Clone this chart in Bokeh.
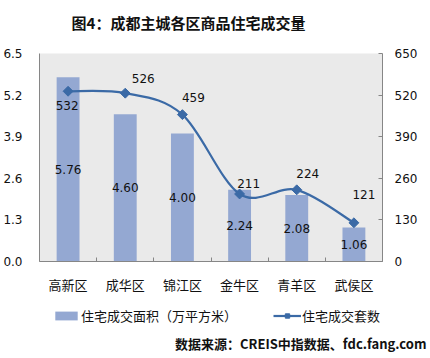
import numpy as np
from bokeh.plotting import figure
from bokeh.layouts import column, row
from bokeh.models import (ColumnDataSource, Range1d, LinearAxis, FixedTicker,
                          PrintfTickFormatter, Legend, LegendItem)
from bokeh.core.properties import value
from bokeh.embed import file_html
from bokeh.resources import INLINE

# ---------------- data ----------------
districts = ["高新区", "成华区", "锦江区", "金牛区", "青羊区", "武侯区"]
area = [5.76, 4.60, 4.00, 2.24, 2.08, 1.06]          # 万平方米 (left axis)
units = [532, 526, 459, 211, 224, 121]               # 套 (right axis)
left_ticks = [0.0, 1.3, 2.6, 3.9, 5.2, 6.5]
right_ticks = [0, 130, 260, 390, 520, 650]
title_text = "图4：成都主城各区商品住宅成交量"
source_text = "数据来源：CREIS中指数据、fdc.fang.com"
bar_legend = "住宅成交面积（万平方米）"
line_legend = "住宅成交套数"

# label placement (styling, px)
unit_dx = [-1, 18, 11, 9, 11, 10]
unit_dy = [14, -15, -17, -10, -16, -28]

# ---------------- styling ----------------
BAR = "#94a8d2"
LINE = "#3b6aa6"
AXIS = "#868686"
NUM_FONT = "DejaVu Sans"
CJK = "Noto Sans CJK SC"
W, H_HEAD, H_MAIN, H_FOOT = 430, 44, 256, 58
FL, FR = 39, 382     # plot-frame left / right (px)

n = len(districts)
xs = [i + 0.5 for i in range(n)]

# ---------------- header: title ----------------
h = figure(width=W, height=H_HEAD, x_range=Range1d(FL, FR), y_range=Range1d(H_HEAD, 0),
           output_backend="svg", toolbar_location=None,
           x_axis_location=None, y_axis_location=None,
           min_border_left=FL, min_border_right=W - FR, min_border_top=0, min_border_bottom=0)
h.grid.visible = False
h.outline_line_color = None
h.background_fill_color = "white"
h.border_fill_color = "white"
head = ColumnDataSource(dict(x=[188], y=[22], t=[title_text]))
h.text(x="x", y="y", text="t", source=head, text_align="center", text_baseline="middle",
       text_font=value(CJK), text_font_size="15px", text_font_style="bold",
       text_color="#111111")

# ---------------- main chart ----------------
p = figure(width=W, height=H_MAIN, x_range=Range1d(0, n), y_range=Range1d(0, 6.5),
           output_backend="svg", toolbar_location=None,
           min_border_left=FL, min_border_right=W - FR, min_border_top=9, min_border_bottom=39)
p.background_fill_color = "#eaeaea"
p.border_fill_color = "white"
p.outline_line_color = None
p.xgrid.visible = False
p.ygrid.visible = False
p.title.standoff = 0
p.title.text_font_size = "1px"

bar_src = ColumnDataSource(dict(x=xs, top=area, lab=[f"{v:.2f}" for v in area],
                                mid=[v / 2 for v in area]))
p.vbar(x="x", top="top", width=0.4, source=bar_src, fill_color=BAR, line_color=None)
p.text(x="x", y="mid", text="lab", source=bar_src, text_align="center",
       text_baseline="middle", text_font=value(NUM_FONT), text_font_size="12px",
       text_color="#111111")

p.extra_y_ranges = {"units": Range1d(0, 650)}

# smoothed line (Catmull-Rom style bezier through the data points)
x0s, y0s, x1s, y1s, cx0s, cy0s, cx1s, cy1s = [], [], [], [], [], [], [], []
for i in range(n - 1):
    im1 = max(i - 1, 0)
    ip2 = min(i + 2, n - 1)
    x0s.append(xs[i]); y0s.append(units[i])
    x1s.append(xs[i + 1]); y1s.append(units[i + 1])
    cx0s.append(xs[i] + (xs[i + 1] - xs[im1]) / 6)
    cy0s.append(units[i] + (units[i + 1] - units[im1]) / 6)
    cx1s.append(xs[i + 1] - (xs[ip2] - xs[i]) / 6)
    cy1s.append(units[i + 1] - (units[ip2] - units[i]) / 6)
bz_src = ColumnDataSource(dict(x0=x0s, y0=y0s, x1=x1s, y1=y1s,
                               cx0=cx0s, cy0=cy0s, cx1=cx1s, cy1=cy1s))
p.bezier(x0="x0", y0="y0", x1="x1", y1="y1", cx0="cx0", cy0="cy0", cx1="cx1", cy1="cy1",
         source=bz_src, line_color=LINE, line_width=2.2, y_range_name="units")

line_src = ColumnDataSource(dict(x=xs, y=units, lab=[str(v) for v in units],
                                 dx=unit_dx, dy=unit_dy))
p.scatter(x="x", y="y", source=line_src, marker="square", angle=np.pi / 4,
          size=7, fill_color=LINE, line_color=LINE, y_range_name="units")
p.text(x="x", y="y", text="lab", source=line_src, x_offset="dx", y_offset="dy",
       text_align="center", text_baseline="middle", text_font=value(NUM_FONT),
       text_font_size="12px", text_color="#111111", y_range_name="units")

yl = p.yaxis[0]
yl.ticker = FixedTicker(ticks=left_ticks)
yl.formatter = PrintfTickFormatter(format="%.1f")
yr = LinearAxis(y_range_name="units", ticker=FixedTicker(ticks=right_ticks))
p.add_layout(yr, "right")
for ax in (yl, yr):
    ax.axis_line_color = AXIS
    ax.major_tick_out = 0
    ax.major_tick_in = 4
    ax.major_tick_line_color = AXIS
    ax.minor_tick_line_color = None
    ax.major_label_text_font = NUM_FONT
    ax.major_label_text_font_size = "12px"
    ax.major_label_text_color = "#111111"
    ax.major_label_standoff = 12
yl.major_tick_in = 0
yl.major_label_standoff = 17

xa = p.xaxis[0]
xa.ticker = FixedTicker(ticks=xs, minor_ticks=list(range(n + 1)))
xa.major_label_overrides = {x: d for x, d in zip(xs, districts)}
xa.axis_line_color = AXIS
xa.major_tick_in = 0
xa.major_tick_out = 0
xa.minor_tick_in = 4
xa.minor_tick_out = 0
xa.minor_tick_line_color = AXIS
xa.major_label_text_font = CJK
xa.major_label_text_font_size = "13px"
xa.major_label_text_color = "#111111"
xa.major_label_standoff = 13

# ---------------- footer: legend + source ----------------
f = figure(width=W, height=H_FOOT, x_range=Range1d(0, W), y_range=Range1d(H_FOOT, 0),
           output_backend="svg", toolbar_location=None,
           x_axis_location=None, y_axis_location=None,
           min_border_left=0, min_border_right=0, min_border_top=0, min_border_bottom=0)
f.grid.visible = False
f.outline_line_color = None
f.background_fill_color = "white"
f.border_fill_color = "white"

# legend key renderers (their marks lie outside the footer's visible range)
hidden = ColumnDataSource(dict(x=[-100, -90], y=[-100, -100], top=[-100, -100]))
k_bar = f.vbar(x="x", top="top", width=1, source=hidden, fill_color=BAR, line_color=None)
k_line = f.line(x="x", y="y", source=hidden, line_color=LINE, line_width=2.2)
k_mark = f.scatter(x="x", y="y", source=hidden, marker="square", angle=np.pi / 4,
                   size=6, fill_color=LINE, line_color=LINE)

legend = Legend(items=[LegendItem(label=bar_legend, renderers=[k_bar]),
                       LegendItem(label=line_legend, renderers=[k_line, k_mark])],
                orientation="horizontal", location=(52, 33),
                glyph_width=28, glyph_height=11, label_standoff=1, spacing=36,
                padding=0, margin=0, border_line_color=None, background_fill_alpha=0,
                label_text_font=CJK, label_text_font_size="13px",
                label_text_color="#111111")
f.add_layout(legend, "center")

note = ColumnDataSource(dict(x=[W - 4], y=[43], t=[source_text]))
f.text(x="x", y="y", text="t", source=note, text_align="right", text_baseline="middle",
       text_font=value(CJK), text_font_size="13px", text_font_style="bold",
       text_color="#111111")

layout = column(h, p, row(f), spacing=0)
open("out.html", "w").write(file_html(layout, INLINE))
